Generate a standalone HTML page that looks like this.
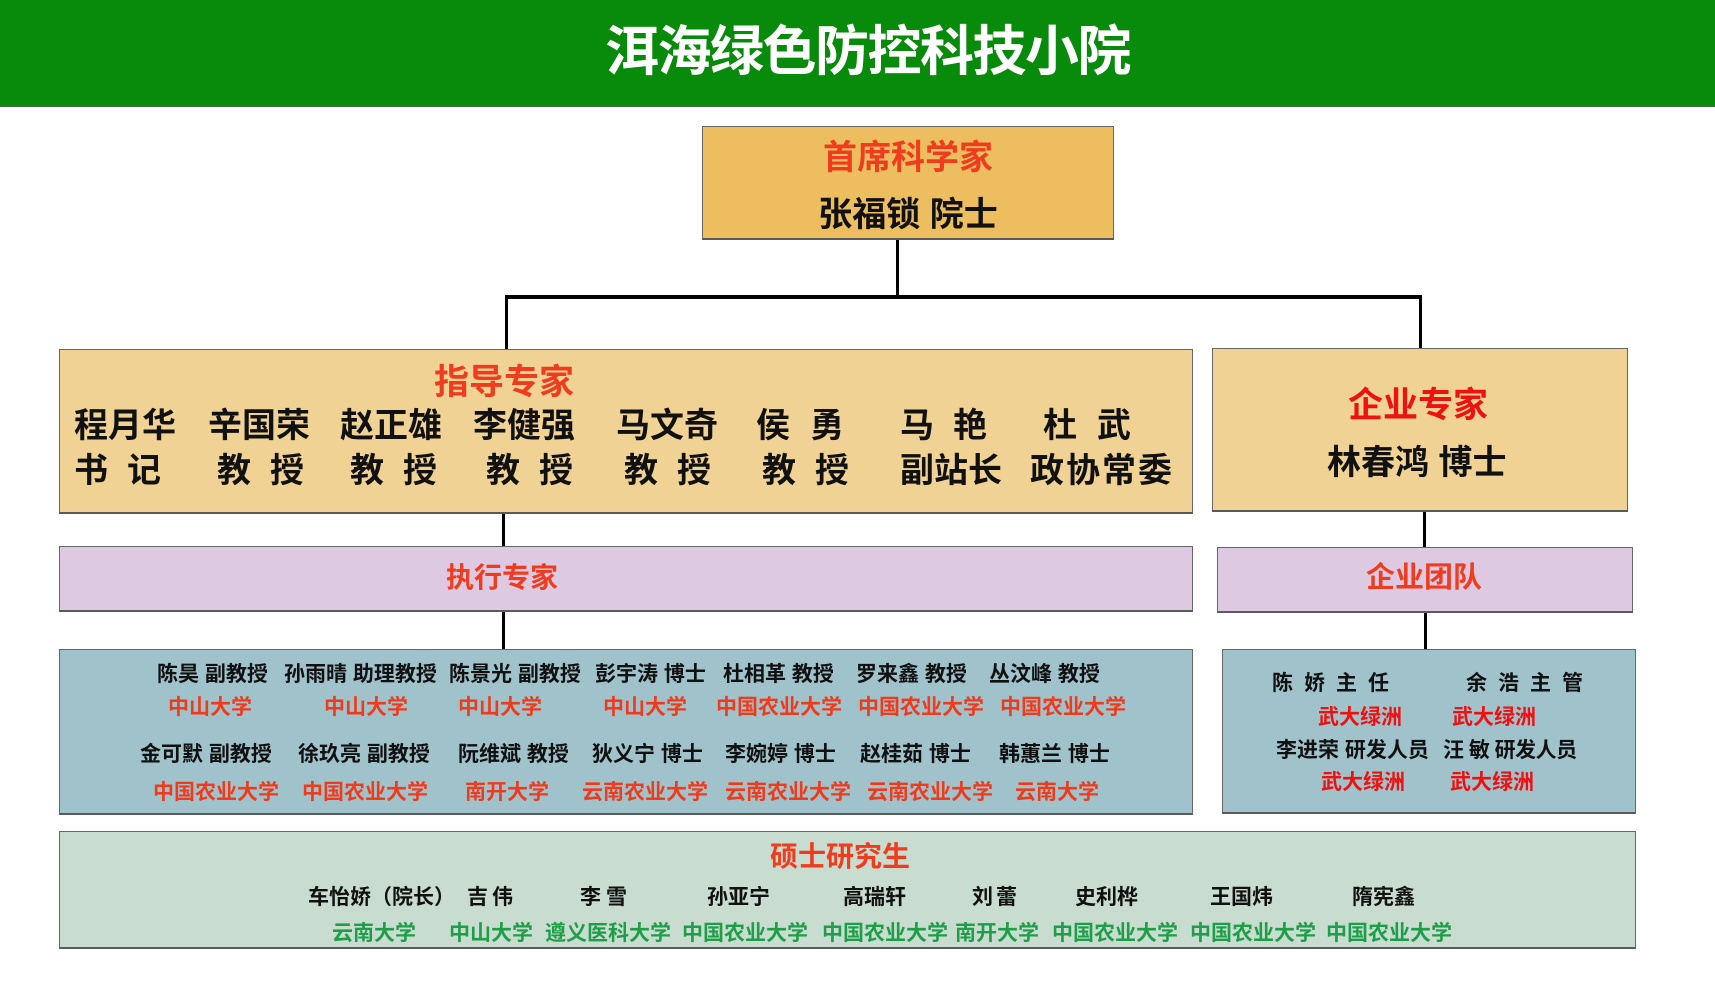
<!DOCTYPE html>
<html><head><meta charset="utf-8">
<style>
html,body{margin:0;padding:0;}
body{width:1715px;height:994px;position:relative;background:#fff;overflow:hidden;
font-family:"Liberation Sans","Noto Sans CJK SC",sans-serif;font-weight:700;}
.a{position:absolute;}
.t{position:absolute;white-space:pre;line-height:1;}
.box{position:absolute;box-sizing:border-box;border:1px solid #666;border-bottom:2px solid #5a5a5a;}
.ln{position:absolute;background:#000;}
.b34{font-size:34px;color:#111;}
.r21{font-size:21px;color:#F03A1C;}
.k21{font-size:21px;color:#111;}
.rr21{font-size:21px;color:#EE1111;}
.g21{font-size:21px;color:#1E9E48;}
</style></head><body>

<!-- header -->
<div class="a" style="left:0;top:0;width:1715px;height:107px;background:#088A0B;border-bottom:1px solid #3d6b3d;box-sizing:border-box;"></div>
<div class="t" style="left:605px;top:25px;font-size:54px;letter-spacing:-1.5px;color:#fff;">洱海绿色防控科技小院</div>

<!-- connectors -->
<div class="ln" style="left:896px;top:238px;width:3px;height:60px;"></div>
<div class="ln" style="left:505px;top:295px;width:917px;height:4px;"></div>
<div class="ln" style="left:505px;top:296px;width:3px;height:54px;"></div>
<div class="ln" style="left:1419px;top:296px;width:3px;height:53px;"></div>
<div class="ln" style="left:502px;top:512px;width:3px;height:35px;"></div>
<div class="ln" style="left:502px;top:610px;width:3px;height:40px;"></div>
<div class="ln" style="left:1423px;top:510px;width:3px;height:38px;"></div>
<div class="ln" style="left:1424px;top:611px;width:3px;height:40px;"></div>

<!-- top box -->
<div class="box" style="left:702px;top:126px;width:412px;height:114px;background:#EDBE60;"></div>
<div class="t" style="left:702px;width:412px;text-align:center;top:141px;font-size:34px;color:#F03C1E;">首席科学家</div>
<div class="t" style="left:702px;width:412px;text-align:center;top:198px;font-size:34px;color:#111;">张福锁 院士</div>

<!-- guide experts -->
<div class="box" style="left:59px;top:349px;width:1134px;height:165px;background:#F0D295;"></div>
<div class="t" style="left:434px;top:365px;font-size:35px;color:#F03C1E;">指导专家</div>
<div class="t b34" style="left:74px;top:409px;">程月华</div>
<div class="t b34" style="left:208px;top:409px;">辛国荣</div>
<div class="t b34" style="left:340px;top:409px;">赵正雄</div>
<div class="t b34" style="left:473px;top:409px;">李健强</div>
<div class="t b34" style="left:616px;top:409px;">马文奇</div>
<div class="t b34" style="left:756px;top:409px;letter-spacing:20px;">侯勇</div>
<div class="t b34" style="left:900px;top:409px;letter-spacing:19px;">马艳</div>
<div class="t b34" style="left:1043px;top:409px;letter-spacing:20px;">杜武</div>
<div class="t b34" style="left:74px;top:454px;letter-spacing:19px;">书记</div>
<div class="t b34" style="left:217px;top:454px;letter-spacing:19px;">教授</div>
<div class="t b34" style="left:350px;top:454px;letter-spacing:19px;">教授</div>
<div class="t b34" style="left:486px;top:454px;letter-spacing:19px;">教授</div>
<div class="t b34" style="left:624px;top:454px;letter-spacing:19px;">教授</div>
<div class="t b34" style="left:762px;top:454px;letter-spacing:19px;">教授</div>
<div class="t b34" style="left:900px;top:454px;">副站长</div>
<div class="t b34" style="left:1030px;top:454px;letter-spacing:2px;">政协常委</div>

<!-- enterprise expert -->
<div class="box" style="left:1212px;top:348px;width:416px;height:164px;background:#F0D295;"></div>
<div class="t" style="left:1348px;top:388px;font-size:35px;color:#EE1111;">企业专家</div>
<div class="t b34" style="left:1327px;top:446px;">林春鸿 博士</div>

<!-- lavender -->
<div class="box" style="left:59px;top:546px;width:1134px;height:66px;background:#DEC9E3;"></div>
<div class="t" style="left:446px;top:564px;font-size:28px;color:#F03C1E;">执行专家</div>
<div class="box" style="left:1217px;top:547px;width:416px;height:66px;background:#DEC9E3;"></div>
<div class="t" style="left:1366px;top:564px;font-size:29px;color:#F03C1E;">企业团队</div>

<!-- blue left -->
<div class="box" style="left:59px;top:649px;width:1134px;height:166px;background:#A0C2CB;"></div>
<div class="t k21" style="left:157px;top:664px;">陈昊 副教授</div>
<div class="t k21" style="left:284px;top:664px;">孙雨晴 助理教授</div>
<div class="t k21" style="left:449px;top:664px;">陈景光 副教授</div>
<div class="t k21" style="left:595px;top:664px;">彭宇涛 博士</div>
<div class="t k21" style="left:723px;top:664px;">杜相革 教授</div>
<div class="t k21" style="left:856px;top:664px;">罗来鑫 教授</div>
<div class="t k21" style="left:989px;top:664px;">丛汶峰 教授</div>

<div class="t r21" style="left:168px;top:697px;">中山大学</div>
<div class="t r21" style="left:324px;top:697px;">中山大学</div>
<div class="t r21" style="left:458px;top:697px;">中山大学</div>
<div class="t r21" style="left:603px;top:697px;">中山大学</div>
<div class="t r21" style="left:716px;top:697px;">中国农业大学</div>
<div class="t r21" style="left:858px;top:697px;">中国农业大学</div>
<div class="t r21" style="left:1000px;top:697px;">中国农业大学</div>

<div class="t k21" style="left:140px;top:744px;">金可默 副教授</div>
<div class="t k21" style="left:298px;top:744px;">徐玖亮 副教授</div>
<div class="t k21" style="left:458px;top:744px;">阮维斌 教授</div>
<div class="t k21" style="left:592px;top:744px;">狄义宁 博士</div>
<div class="t k21" style="left:725px;top:744px;">李婉婷 博士</div>
<div class="t k21" style="left:860px;top:744px;">赵桂茹 博士</div>
<div class="t k21" style="left:999px;top:744px;">韩蕙兰 博士</div>

<div class="t r21" style="left:153px;top:782px;">中国农业大学</div>
<div class="t r21" style="left:302px;top:782px;">中国农业大学</div>
<div class="t r21" style="left:465px;top:782px;">南开大学</div>
<div class="t r21" style="left:582px;top:782px;">云南农业大学</div>
<div class="t r21" style="left:725px;top:782px;">云南农业大学</div>
<div class="t r21" style="left:867px;top:782px;">云南农业大学</div>
<div class="t r21" style="left:1015px;top:782px;">云南大学</div>

<!-- blue right -->
<div class="box" style="left:1222px;top:649px;width:414px;height:165px;background:#A0C2CB;"></div>
<div class="t k21" style="left:1272px;top:673px;letter-spacing:11px;">陈娇主任</div>
<div class="t k21" style="left:1466px;top:673px;letter-spacing:11px;">余浩主管</div>
<div class="t rr21" style="left:1318px;top:707px;">武大绿洲</div>
<div class="t rr21" style="left:1452px;top:707px;">武大绿洲</div>
<div class="t k21" style="left:1276px;top:740px;">李进荣 研发人员</div>
<div class="t k21" style="left:1443px;top:740px;letter-spacing:-0.5px;">汪 敏 研发人员</div>
<div class="t rr21" style="left:1321px;top:772px;">武大绿洲</div>
<div class="t rr21" style="left:1450px;top:772px;">武大绿洲</div>

<!-- green bottom -->
<div class="box" style="left:59px;top:831px;width:1577px;height:118px;background:#C8DCCF;"></div>
<div class="t" style="left:770px;top:843px;font-size:28px;color:#F03C1E;">硕士研究生</div>
<div class="t k21" style="left:308px;top:887px;">车怡娇（院长）</div>
<div class="t k21" style="left:467px;top:887px;letter-spacing:4px;">吉伟</div>
<div class="t k21" style="left:580px;top:887px;letter-spacing:5px;">李雪</div>
<div class="t k21" style="left:707px;top:887px;">孙亚宁</div>
<div class="t k21" style="left:843px;top:887px;">高瑞轩</div>
<div class="t k21" style="left:972px;top:887px;letter-spacing:3px;">刘蕾</div>
<div class="t k21" style="left:1075px;top:887px;">史利桦</div>
<div class="t k21" style="left:1210px;top:887px;">王国炜</div>
<div class="t k21" style="left:1352px;top:887px;">隋宪鑫</div>

<div class="t g21" style="left:332px;top:923px;">云南大学</div>
<div class="t g21" style="left:449px;top:923px;">中山大学</div>
<div class="t g21" style="left:545px;top:923px;">遵义医科大学</div>
<div class="t g21" style="left:682px;top:923px;">中国农业大学</div>
<div class="t g21" style="left:822px;top:923px;">中国农业大学</div>
<div class="t g21" style="left:955px;top:923px;">南开大学</div>
<div class="t g21" style="left:1052px;top:923px;">中国农业大学</div>
<div class="t g21" style="left:1190px;top:923px;">中国农业大学</div>
<div class="t g21" style="left:1326px;top:923px;">中国农业大学</div>

</body></html>
